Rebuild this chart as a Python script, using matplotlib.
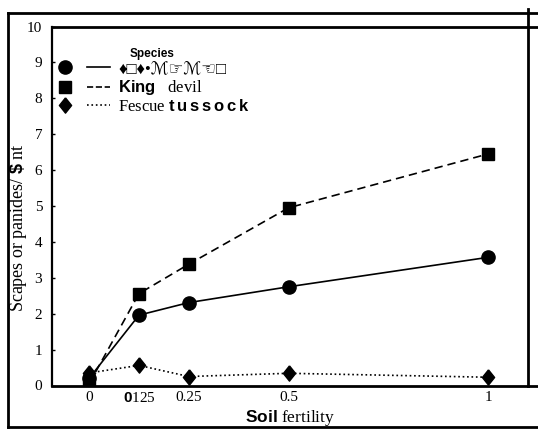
import matplotlib
matplotlib.use("Agg")
import matplotlib.pyplot as plt
from matplotlib.lines import Line2D
from matplotlib.legend_handler import HandlerTuple

plt.rcParams['font.family'] = ['Liberation Serif', 'DejaVu Sans']
plt.rcParams['mathtext.fontset'] = 'custom'
plt.rcParams['mathtext.bf'] = 'Liberation Sans:bold'
plt.rcParams['mathtext.rm'] = 'Liberation Serif'

# values
fertility = [0, 0.125, 0.25, 0.5, 1]
snow_tussock = [0.2, 1.96, 2.31, 2.75, 3.57]
king_devil = [0.05, 2.56, 3.38, 4.95, 6.45]
fescue_tussock = [0.35, 0.56, 0.25, 0.34, 0.23]

xtick_vals = [0, 0.125, 0.25, 0.5, 1]
xtick_labels = ["0", r"$\mathbf{0}$125", "0.25", "0.5", "1"]
ytick_vals = list(range(0, 11))

series_labels = ["\u2666\u25a1\u2666\u2022\u2133\u261e\u2133\u261c\u25a1",
                 r"$\mathbf{King}$   devil",
                 r"Fescue $\mathbf{t\,u\,s\,s\,o\,c\,k}$"]

# slightly squat diamond like the printed one
diamond = [(0, 1), (0.8, 0), (0, -1), (-0.8, 0), (0, 1)]

fig = plt.figure(figsize=(5.38, 4.32), dpi=100)
ax = fig.add_axes([52 / 538, 1 - 385.5 / 432, 476 / 538, 359 / 432])

l1, = ax.plot(fertility, snow_tussock, '-', color='black', lw=1.2,
              marker='o', ms=9.5)
l2, = ax.plot(fertility, king_devil, '--', color='black', lw=1.2,
              marker='s', ms=9, dashes=(5, 3))
l3, = ax.plot(fertility, fescue_tussock, ':', color='black', lw=1.2,
              marker=diamond, ms=11)

ax.set_xlim(-0.093, 1.10)
ax.set_ylim(0, 10)
ax.set_xticks(xtick_vals)
ax.set_xticklabels(xtick_labels, fontsize=11)
ax.set_yticks(ytick_vals)
ax.set_yticklabels([str(v) for v in ytick_vals], fontsize=11)
ax.tick_params(axis='x', length=0, pad=4)
ax.tick_params(axis='y', direction='in', length=2.5, width=1, pad=7)

for s in ax.spines.values():
    s.set_linewidth(2)
ax.spines['left'].set_linewidth(1.6)

ax.set_ylabel(r"Scapes or panides/ $\mathbf{\$}$ nt", fontsize=13)
ax.yaxis.set_label_coords(-0.049, 0.44)
ax.set_xlabel(r"$\mathbf{Soil}$ fertility", fontsize=12.5)
ax.xaxis.set_label_coords(0.5, -0.062)

# legend: marker on the left, line piece after it
def mk(line):
    return Line2D([], [], ls='none', marker=line.get_marker(),
                  ms=line.get_markersize(), color='black')

def ln(line):
    return Line2D([], [], ls=line.get_linestyle(), lw=1.2, color='black')

handles = [(mk(l), ln(l)) for l in (l1, l2, l3)]
leg = ax.legend(handles, series_labels, loc='upper left',
                bbox_to_anchor=(-0.004, 0.95), frameon=False,
                title='Species',
                title_fontproperties={'family': 'Liberation Sans',
                                      'weight': 'bold', 'size': 8.5},
                prop={'family': ['Liberation Serif', 'DejaVu Sans'],
                      'size': 12},
                handler_map={tuple: HandlerTuple(ndivide=None, pad=0.6)},
                handlelength=3.4, handletextpad=0.5, borderaxespad=0,
                borderpad=0.2, labelspacing=0.08)

# scanned page frame
W, H = 538.0, 432.0
def fline(x0, y0, x1, y1, lw=2):
    fig.add_artist(Line2D([x0 / W, x1 / W], [1 - y0 / H, 1 - y1 / H],
                          color='black', lw=lw, transform=fig.transFigure))

fline(7.5, 12.7, 538, 12.7)
fline(7.5, 12.7, 7.5, 426.7)
fline(7.5, 426.7, 538, 426.7)
fline(528, 9, 528, 27)
fline(528, 26.5, 538, 26.5)
fline(528, 385.5, 538, 385.5)

fig.savefig("out.png", dpi=100)
